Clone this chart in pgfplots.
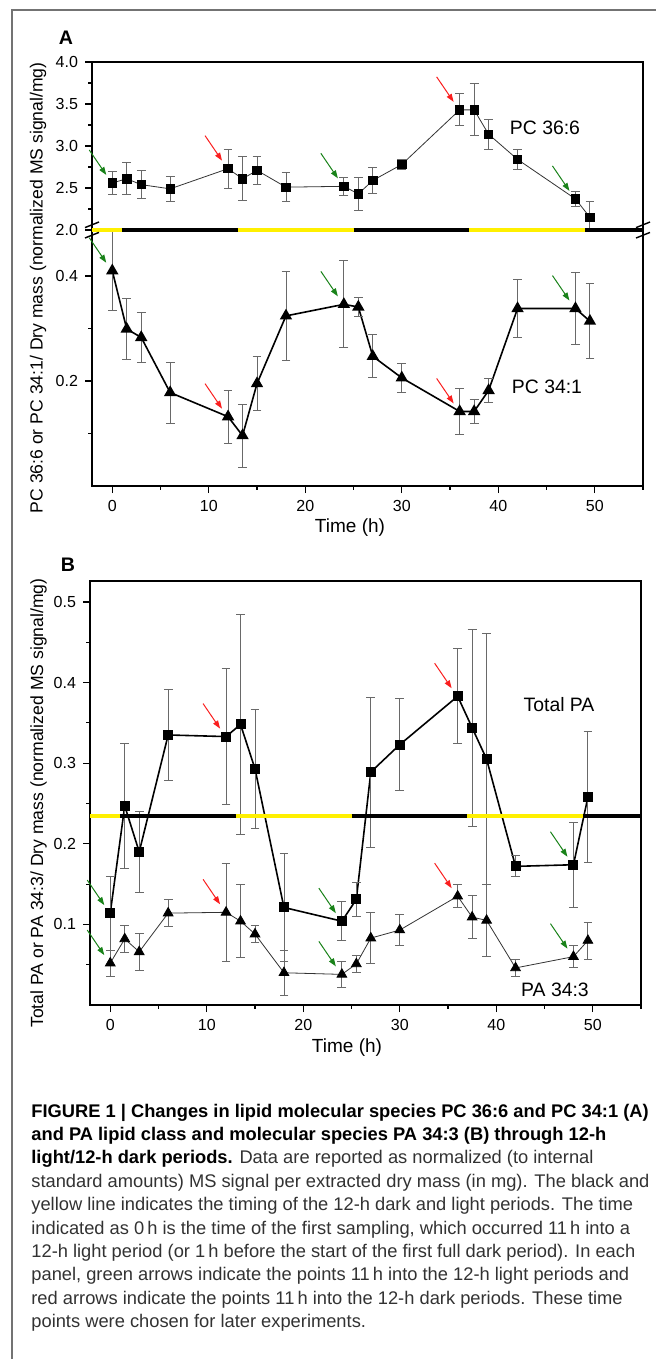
\documentclass[border=0pt]{standalone}
\usepackage{fontspec}
\setmainfont{Liberation Sans}
\usepackage{pgfplots}
\pgfplotsset{compat=1.18}
\usetikzlibrary{arrows.meta}

\definecolor{arrgreen}{RGB}{25,130,25}
\definecolor{arrred}{RGB}{250,30,30}
\definecolor{baryellow}{RGB}{255,240,0}
\definecolor{ebar}{RGB}{105,105,105}
\definecolor{captext}{RGB}{50,50,50}

\pgfplotsset{
  panel/.style={
    scale only axis, width=275.5pt, clip=false,
    xmin=-2.1, xmax=55,
    axis line style={line width=0.9pt},
    tick align=outside, tick pos=left,
    major tick length=3.5pt, minor tick length=1.8pt,
    every tick/.style={black, line width=0.6pt},
    tick label style={font=\fontsize{8}{9}\selectfont},
    /pgf/number format/assume math mode=true,
    yticklabel style={/pgf/number format/fixed,/pgf/number format/fixed zerofill,/pgf/number format/precision=1},
  },
  ebars/.style={
    error bars/.cd, y dir=both, y explicit,
    error bar style={line width=0.45pt, ebar},
    error mark options={rotate=90, mark size=2.2pt, line width=0.45pt, ebar},
  },
  sq/.style={mark=square*, mark size=2.1pt, mark options={solid, black}},
  tri/.style={mark=triangle*, mark size=2.8pt, mark options={solid, black}},
}

% arrow pointing at a data point: colour, x, y
\newcommand{\arr}[3]{\draw[#1, line width=0.5pt, -{Triangle[length=4pt,width=2.8pt]}] (axis cs:#2,#3) ++(-11.5pt,16.5pt) -- ++(8.5pt,-12.5pt);}

\begin{document}
\begin{tikzpicture}
\useasboundingbox (0,0) rectangle (328pt,-679.5pt);
\draw[black!55, line width=0.6pt] (6pt,-679.5pt) -- (6pt,-5pt) -- (328pt,-5pt);

% ---------- panel A, lower part (PC 34:1)
\begin{axis}[panel, at={(46pt,-115pt)}, anchor=north west, height=128pt,
  ymin=0, ymax=0.4876, ytick={0.2,0.4}, minor ytick={0.1,0.3},
  xtick={0,10,...,50}, minor xtick={5,15,...,55}]
\addplot[black, line width=0.8pt, tri, ebars] coordinates {
  (0,0.410) +- (0,0.076)
  (1.5,0.299) +- (0,0.058)
  (3,0.283) +- (0,0.047)
  (6,0.178) +- (0,0.058)
  (12,0.132) +- (0,0.050)
  (13.5,0.096) +- (0,0.060)
  (15,0.195) +- (0,0.052)
  (18,0.324) +- (0,0.085)
  (24,0.346) +- (0,0.083)
  (25.5,0.341) +- (0,0.018)
  (27,0.247) +- (0,0.041)
  (30,0.206) +- (0,0.028)
  (36,0.142) +- (0,0.044)
  (37.5,0.142) +- (0,0.022)
  (39,0.182) +- (0,0.023)
  (42,0.338) +- (0,0.056)
  (48,0.338) +- (0,0.069)
  (49.5,0.314) +- (0,0.071)
};
\arr{arrgreen}{0}{0.410}
\arr{arrgreen}{24}{0.346}
\arr{arrgreen}{48}{0.338}
\arr{arrred}{12}{0.132}
\arr{arrred}{36}{0.142}
\end{axis}

% ---------- panel A, upper part (PC 36:6)
\begin{axis}[panel, at={(46pt,-115pt)}, anchor=south west, height=84pt,
  ymin=2, ymax=4, ytick={2,2.5,3,3.5,4}, minor tick num=1, xtick=\empty]
\addplot[black!80, line width=0.4pt, sq, ebars] coordinates {
  (0,2.56) +- (0,0.14)
  (1.5,2.61) +- (0,0.19)
  (3,2.54) +- (0,0.17)
  (6,2.49) +- (0,0.15)
  (12,2.73) +- (0,0.23)
  (13.5,2.61) +- (0,0.26)
  (15,2.71) +- (0,0.17)
  (18,2.51) +- (0,0.17)
  (24,2.52) +- (0,0.11)
  (25.5,2.43) +- (0,0.20)
  (27,2.59) +- (0,0.16)
  (30,2.78) +- (0,0.06)
  (36,3.43) +- (0,0.19)
  (37.5,3.43) +- (0,0.31)
  (39,3.14) +- (0,0.18)
  (42,2.84) +- (0,0.12)
  (48,2.37) +- (0,0.09)
  (49.5,2.15) += (0,0.19) -= (0,0.14)
};
% light (yellow) and dark (black) periods
\addplot[baryellow, line width=2pt] coordinates {(-2.1,2) (1,2)};
\addplot[black, line width=2pt] coordinates {(1,2) (13,2)};
\addplot[baryellow, line width=2pt] coordinates {(13,2) (25,2)};
\addplot[black, line width=2pt] coordinates {(25,2) (37,2)};
\addplot[baryellow, line width=2pt] coordinates {(37,2) (49,2)};
\addplot[black, line width=2pt] coordinates {(49,2) (55,2)};
\arr{arrgreen}{0}{2.56}
\arr{arrgreen}{24}{2.52}
\arr{arrgreen}{48}{2.37}
\arr{arrred}{12}{2.73}
\arr{arrred}{36}{3.43}
\end{axis}

% axis breaks
\foreach \xx in {46pt,321.5pt}{
  \draw[line width=0.7pt] ({\xx-3.5pt},-113.8pt) -- ({\xx+3.5pt},-111pt);
  \draw[line width=0.7pt] ({\xx-3.5pt},-119pt) -- ({\xx+3.5pt},-116.2pt);
}

% ---------- panel B
\begin{axis}[panel, at={(45pt,-290.5pt)}, anchor=north west, height=212pt,
  ymin=0, ymax=0.526, ytick={0.1,0.2,0.3,0.4,0.5}, minor ytick={0.05,0.15,0.25,0.35,0.45},
  xtick={0,10,...,50}, minor xtick={5,15,...,55}]
\addplot[black, line width=0.8pt, sq, ebars] coordinates {
  (0,0.114) +- (0,0.046)
  (1.5,0.247) +- (0,0.078)
  (3,0.190) +- (0,0.050)
  (6,0.335) +- (0,0.057)
  (12,0.333) +- (0,0.084)
  (13.5,0.348) +- (0,0.137)
  (15,0.293) +- (0,0.074)
  (18,0.121) +- (0,0.067)
  (24,0.104) +- (0,0.024)
  (25.5,0.131) +- (0,0.021)
  (27,0.289) +- (0,0.093)
  (30,0.323) +- (0,0.057)
  (36,0.383) +- (0,0.059)
  (37.5,0.344) +- (0,0.122)
  (39,0.305) +- (0,0.156)
  (42,0.172) +- (0,0.013)
  (48,0.174) +- (0,0.053)
  (49.5,0.258) +- (0,0.081)
};
\addplot[black!80, line width=0.4pt, tri, ebars] coordinates {
  (0,0.052) +- (0,0.016)
  (1.5,0.082) +- (0,0.017)
  (3,0.066) +- (0,0.023)
  (6,0.114) +- (0,0.017)
  (12,0.115) +- (0,0.061)
  (13.5,0.104) +- (0,0.045)
  (15,0.088) +- (0,0.011)
  (18,0.040) +- (0,0.028)
  (24,0.038) +- (0,0.016)
  (25.5,0.051) +- (0,0.011)
  (27,0.083) +- (0,0.032)
  (30,0.093) +- (0,0.019)
  (36,0.135) +- (0,0.014)
  (37.5,0.109) +- (0,0.027)
  (39,0.105) +- (0,0.045)
  (42,0.046) +- (0,0.010)
  (48,0.060) +- (0,0.014)
  (49.5,0.080) +- (0,0.023)
};
\addplot[baryellow, line width=2pt] coordinates {(-2.1,0.235) (1,0.235)};
\addplot[black, line width=2pt] coordinates {(1,0.235) (13,0.235)};
\addplot[baryellow, line width=2pt] coordinates {(13,0.235) (25,0.235)};
\addplot[black, line width=2pt] coordinates {(25,0.235) (37,0.235)};
\addplot[baryellow, line width=2pt] coordinates {(37,0.235) (49,0.235)};
\addplot[black, line width=2pt] coordinates {(49,0.235) (55,0.235)};
\arr{arrgreen}{0}{0.114}
\arr{arrgreen}{24}{0.104}
\arr{arrgreen}{48}{0.174}
\arr{arrred}{12}{0.333}
\arr{arrred}{36}{0.383}
\arr{arrgreen}{0}{0.052}
\arr{arrgreen}{24}{0.038}
\arr{arrgreen}{48}{0.060}
\arr{arrred}{12}{0.115}
\arr{arrred}{36}{0.135}
\end{axis}

% labels
\node[font=\fontsize{9.8}{11}\selectfont\bfseries] at (33pt,-19pt) {A};
\node[font=\fontsize{9.8}{11}\selectfont\bfseries] at (34pt,-282.5pt) {B};
\node[font=\fontsize{9.7}{11}\selectfont] at (272.5pt,-64pt) {PC 36:6};
\node[font=\fontsize{9.7}{11}\selectfont] at (273.5pt,-193.5pt) {PC 34:1};
\node[font=\fontsize{9.7}{11}\selectfont] at (279.5pt,-352.5pt) {Total PA};
\node[font=\fontsize{9.7}{11}\selectfont] at (277.5pt,-495pt) {PA 34:3};
\node[font=\fontsize{9.5}{11}\selectfont] at (175pt,-264pt) {Time (h)};
\node[font=\fontsize{9.5}{11}\selectfont] at (173.5pt,-524pt) {Time (h)};
\node[font=\fontsize{8.8}{10}\selectfont, rotate=90, anchor=east, inner sep=0pt] at (19pt,-31pt)
  {PC 36:6 or PC 34:1/ Dry mass (normalized MS signal/mg)};
\node[font=\fontsize{8.8}{10}\selectfont, rotate=90, anchor=east, inner sep=0pt] at (19.3pt,-289pt)
  {Total PA or PA 34:3/ Dry mass (normalized MS signal/mg)};

% caption
\begin{scope}[every node/.style={anchor=base west, inner sep=0pt, font=\fontsize{9.15}{11}\selectfont}]
\node at (15.5pt,-558.5pt) {\textbf{FIGURE 1 | Changes in lipid molecular species PC 36:6 and PC 34:1 (A)}};
\node at (15.5pt,-570.2pt) {\textbf{and PA lipid class and molecular species PA 34:3 (B) through 12-h}};
\node at (15.5pt,-581.9pt) {\textbf{light/12-h dark periods.} \textcolor{captext}{Data are reported as normalized (to internal}};
\node[text=captext] at (15.5pt,-593.6pt) {standard amounts) MS signal per extracted dry mass (in mg). The black and};
\node[text=captext] at (15.5pt,-605.3pt) {yellow line indicates the timing of the 12-h dark and light periods. The time};
\node[text=captext] at (15.5pt,-617pt) {indicated as 0\,h is the time of the first sampling, which occurred 11\,h into a};
\node[text=captext] at (15.5pt,-628.7pt) {12-h light period (or 1\,h before the start of the first full dark period). In each};
\node[text=captext] at (15.5pt,-640.4pt) {panel, green arrows indicate the points 11\,h into the 12-h light periods and};
\node[text=captext] at (15.5pt,-652.1pt) {red arrows indicate the points 11\,h into the 12-h dark periods. These time};
\node[text=captext] at (15.5pt,-663.8pt) {points were chosen for later experiments.};
\end{scope}
\end{tikzpicture}
\end{document}
